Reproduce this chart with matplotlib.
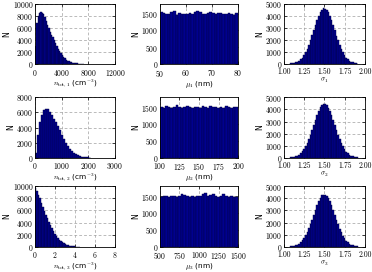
import numpy as np
import matplotlib
matplotlib.use("Agg")
import matplotlib.pyplot as plt

plt.rcParams['font.family'] = ['cmr10']
plt.rcParams['mathtext.fontset'] = 'cm'
plt.rcParams['axes.formatter.use_mathtext'] = True

# ---------------- data (bin counts) ----------------
n1_start, n1_width = 0, 200
n1_counts = [3000, 6800, 8000, 8400, 8600, 8500, 8200, 7700, 7100, 6500,
             5900, 5300, 4800, 4400, 3900, 3400, 2950, 2500, 2100, 1750,
             1400, 1100, 900, 700, 560, 440, 340, 260, 200, 150,
             110, 80, 60, 45, 32, 22, 15]

n2_start, n2_width = 0, 75
n2_counts = [600, 3000, 4700, 5700, 6300, 6500, 6400, 6100, 5700, 5200,
             4700, 4200, 3650, 3000, 2450, 1950, 1500, 1150, 850, 620,
             440, 310, 210, 140, 95, 60, 40, 25]

n3_start, n3_width = 0, 0.15
n3_counts = [9800, 9300, 8600, 8000, 7300, 6600, 5950, 5300, 4700, 4100,
             3550, 3050, 2600, 2180, 1800, 1470, 1180, 930, 720, 550,
             410, 300, 215, 150, 105, 72, 48, 32, 20, 13]

mu1_range = (50, 80)
mu1_counts = [1540, 1520, 1500, 1490, 1560, 1580, 1470, 1510, 1500, 1480,
              1490, 1520, 1500, 1560, 1590, 1540, 1500, 1490, 1530, 1560,
              1520, 1490, 1510, 1530, 1500, 1480, 1520, 1500, 1470, 1510]
mu2_range = (100, 200)
mu2_counts = [1510, 1490, 1530, 1500, 1480, 1520, 1560, 1500, 1470, 1510,
              1540, 1500, 1490, 1520, 1500, 1480, 1530, 1510, 1490, 1550,
              1500, 1520, 1480, 1510, 1490, 1540, 1500, 1470, 1520, 1500]
mu3_range = (500, 1500)
mu3_counts = [1480, 1510, 1500, 1490, 1520, 1500, 1480, 1510, 1580, 1540,
              1500, 1490, 1510, 1480, 1520, 1500, 1560, 1600, 1510, 1530,
              1560, 1500, 1490, 1520, 1570, 1510, 1490, 1500, 1480, 1470]

sig_start, sig_width = 1.08, 0.02
sig1_counts = [35, 50, 85, 120, 180, 270, 380, 530, 720, 960,
               1250, 1580, 1960, 2360, 2790, 3220, 3620, 3980, 4270, 4480,
               4590, 4580, 4470, 4260, 3970, 3610, 3210, 2780, 2350, 1950,
               1570, 1240, 950, 710, 520, 370, 260, 180, 120, 80,
               50, 30]
sig2_counts = [30, 55, 80, 125, 175, 265, 375, 520, 715, 950,
               1230, 1550, 1920, 2320, 2730, 3150, 3540, 3880, 4180, 4370,
               4460, 4450, 4360, 4160, 3880, 3530, 3130, 2720, 2300, 1900,
               1540, 1220, 940, 700, 510, 365, 255, 175, 115, 75,
               45, 28]
sig3_counts = [32, 50, 82, 118, 178, 262, 370, 515, 700, 930,
               1200, 1510, 1870, 2250, 2650, 3050, 3430, 3770, 4050, 4240,
               4320, 4310, 4220, 4030, 3760, 3420, 3040, 2640, 2240, 1850,
               1500, 1190, 920, 690, 505, 360, 250, 170, 112, 72,
               45, 28]

xlabels = [[r'$n_{\rm tot,1}$', r'$\mu_1$', r'$\sigma_1$'],
           [r'$n_{\rm tot,2}$', r'$\mu_2$', r'$\sigma_2$'],
           [r'$n_{\rm tot,3}$', r'$\mu_3$', r'$\sigma_3$']]
xunits = [' (cm$^{-3}$)', ' (nm)', '']

n_xticks = [[0, 4000, 8000, 12000], [0, 1000, 2000, 3000], [0, 2, 4, 6, 8]]
n_yticks = [[0, 2000, 4000, 6000, 8000, 10000], [0, 2000, 4000, 6000, 8000],
            [0, 2000, 4000, 6000, 8000, 10000]]
mu_xticks = [[50, 60, 70, 80], [100, 125, 150, 175, 200],
             [500, 750, 1000, 1250, 1500]]
mu_yticks = [0, 500, 1000, 1500]
sig_xticks = [1.00, 1.25, 1.50, 1.75, 2.00]
sig_yticks = [0, 1000, 2000, 3000, 4000, 5000]

# ---------------- figure ----------------
fig = plt.figure(figsize=(3.72, 2.72), dpi=100)
lefts = [0.094, 0.430, 0.763]
widths = [0.215, 0.210, 0.218]
bottoms = [0.765, 0.420, 0.093]
height = 0.222

FACE = '#00008f'
EDGE = '#000040'


def style(ax):
    ax.tick_params(direction='in', top=True, right=True, length=2,
                   width=0.5, labelsize=5.5, pad=1.2)
    ax.tick_params(axis='x', pad=2.6)
    for s in ax.spines.values():
        s.set_linewidth(0.6)
    ax.grid(True, ls=(0, (4, 3)), color='#a0a0a0', lw=0.5)
    ax.set_axisbelow(True)
    ax.set_ylabel('N', family='DejaVu Sans', fontsize=5.5, labelpad=1)
    for lbl in ax.get_yticklabels():
        lbl.set_verticalalignment('center_baseline')


def draw(ax, start, width, counts):
    c = np.asarray(counts, float)
    edges = start + width * np.arange(len(c) + 1)
    ax.bar(edges[:-1], c, width=np.diff(edges), align='edge',
           color=FACE, edgecolor=EDGE, linewidth=0.3)


n_data = [(n1_start, n1_width, n1_counts), (n2_start, n2_width, n2_counts),
          (n3_start, n3_width, n3_counts)]
mu_data = [(mu1_range, mu1_counts), (mu2_range, mu2_counts),
           (mu3_range, mu3_counts)]
sig_data = [sig1_counts, sig2_counts, sig3_counts]

XL = dict(family='DejaVu Sans', fontsize=5.3, labelpad=0.0)

for r in range(3):
    # n_tot column
    ax = fig.add_axes([lefts[0], bottoms[r], widths[0], height])
    draw(ax, *n_data[r])
    ax.set_xlim(n_xticks[r][0], n_xticks[r][-1])
    ax.set_ylim(n_yticks[r][0], n_yticks[r][-1])
    ax.set_xticks(n_xticks[r])
    ax.set_yticks(n_yticks[r])
    style(ax)
    ax.set_xlabel(xlabels[r][0] + xunits[0], **XL)

    # mu column
    ax = fig.add_axes([lefts[1], bottoms[r], widths[1], height])
    rng, cnt = mu_data[r]
    w = (rng[1] - rng[0]) / len(cnt)
    draw(ax, rng[0], w, cnt)
    ax.set_xlim(*rng)
    ax.set_ylim(0, 1800)
    ax.set_xticks(mu_xticks[r])
    ax.set_yticks(mu_yticks)
    style(ax)
    ax.set_xlabel(xlabels[r][1] + xunits[1], **XL)

    # sigma column
    ax = fig.add_axes([lefts[2], bottoms[r], widths[2], height])
    draw(ax, sig_start, sig_width, sig_data[r])
    ax.set_xlim(1.0, 2.0)
    ax.set_ylim(0, 5000)
    ax.set_xticks(sig_xticks)
    ax.set_xticklabels(['%.2f' % v for v in sig_xticks])
    ax.set_yticks(sig_yticks)
    style(ax)
    ax.set_xlabel(xlabels[r][2], **XL)

fig.savefig('out.png', dpi=100)
